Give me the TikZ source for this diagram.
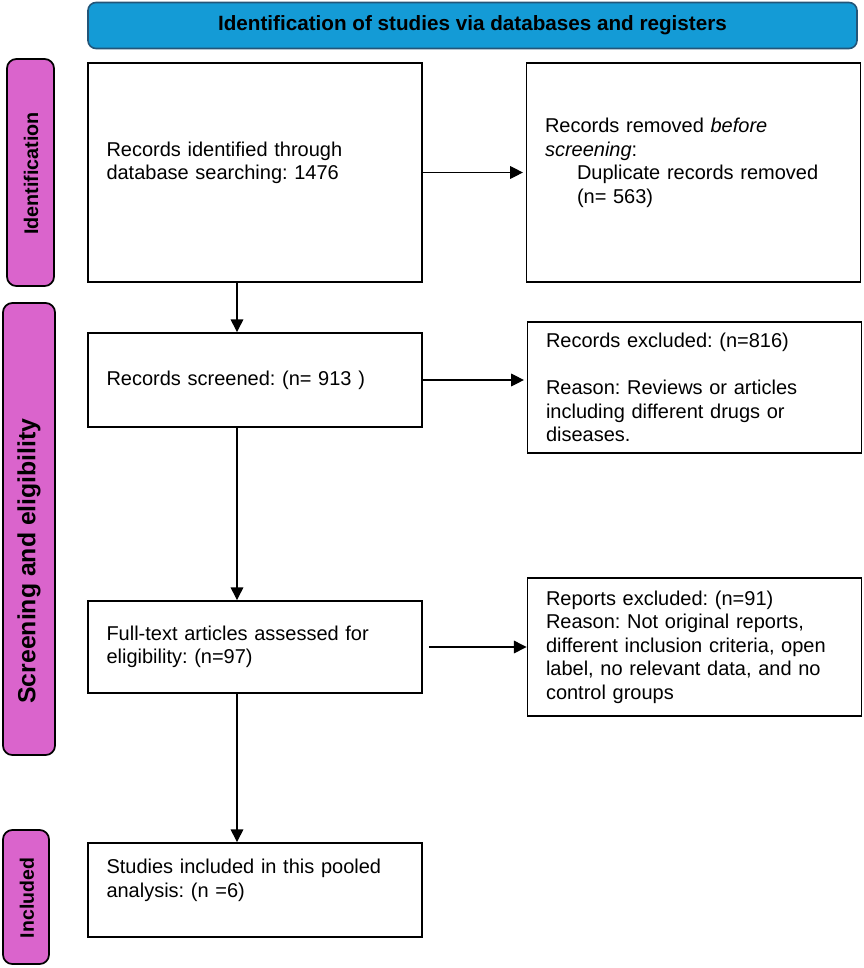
\documentclass[tikz,border=0pt]{standalone}
\usepackage{fontspec}
\setmainfont{Liberation Sans}
\usetikzlibrary{arrows.meta}
\newlength\pxu
\setlength\pxu{0.75pt}
\definecolor{headfill}{RGB}{20,155,214}
\definecolor{headdraw}{RGB}{35,85,120}
\definecolor{barfill}{RGB}{218,100,204}
\tikzset{
  headbox/.style={draw=headdraw, line width=1.2pt, fill=headfill, rounded corners=6pt,
    minimum width=769\pxu, minimum height=46\pxu, inner sep=0pt},
  sidebar/.style={draw=black, line width=1.3pt, fill=barfill, rounded corners=7pt, inner sep=0pt},
  bartext/.style={rotate=90, font=\bfseries, inner sep=0pt},
  flowbox/.style={draw=black, line width=1.4pt, fill=white, inner xsep=18.5\pxu, inner ysep=0pt,
    text width=297\pxu, align=left, minimum height=#1\pxu,
    font=\fontsize{15pt}{17.6pt}\selectfont},
  arr/.style={-{Triangle[length=9.5pt,width=9.5pt]}, line width=0.9pt},
}
\begin{document}
\frenchspacing
\begin{tikzpicture}[x=0.75pt, y=-0.75pt]
\useasboundingbox (0,0) rectangle (864,968);
% header
\node[headbox] (head) at (472.5,25.5) {\fontsize{15.5pt}{18pt}\selectfont\bfseries Identification of studies via databases and registers};
% side bars
\node[sidebar, minimum width=47\pxu, minimum height=227\pxu] (bid) at (30.5,172.5) {};
\node[bartext, font=\fontsize{14.8pt}{18pt}\selectfont\bfseries] (tid) at (31,173.5) {Identification};
\node[sidebar, minimum width=52\pxu, minimum height=452\pxu] (bsc) at (29,529) {};
\node[bartext, font=\fontsize{18.6pt}{20pt}\selectfont\bfseries] (tsc) at (29,561) {Screening and eligibility};
\node[sidebar, minimum width=46\pxu, minimum height=134\pxu] (bin) at (26,897) {};
\node[bartext, font=\fontsize{14.6pt}{17pt}\selectfont\bfseries] (tin) at (27,898) {Included};
% boxes
\node[flowbox=219] (b1) at (255,172.5) {Records identified through\\database searching: 1476\\\mbox{}};
\node[flowbox=219] (b2) at (693.5,172.5) {Records removed \textit{before}\\\textit{screening}:\\\hspace*{24pt}Duplicate records removed\\\hspace*{24pt}(n= 563)\\\mbox{}};
\node[flowbox=94] (scr) at (255,380) {Records screened: (n= 913 )};
\node[flowbox=131] (exc) at (694.5,387.5) {Records excluded: (n=816)\\\mbox{}\\Reason: Reviews or articles\\including different drugs or\\diseases.};
\node[flowbox=92] (ft) at (255,647) {Full-text articles assessed for\\eligibility: (n=97)};
\node[flowbox=138] (rep) at (694.5,647) {Reports excluded: (n=91)\\Reason: Not original reports,\\different inclusion criteria, open\\label, no relevant data, and no\\control groups};
\node[flowbox=94] (st) at (255,890) {Studies included in this pooled\\analysis: (n =6)\\\mbox{}};
% connectors
\coordinate (vx) at (237,0);
\draw[arr, shorten >=2pt] (b1.east) -- (b2.west |- b1.east);
\draw[arr] (b1.south -| vx) -- (scr.north -| vx);
\draw[arr, shorten >=2pt] (scr.east) -- (exc.west |- scr.east);
\draw[arr] (scr.south -| vx) -- (ft.north -| vx);
\draw[arr, shorten <=4.5pt] (ft.east) -- (rep.west |- ft.east);
\draw[arr] (ft.south -| vx) -- (st.north -| vx);
\end{tikzpicture}
\end{document}
